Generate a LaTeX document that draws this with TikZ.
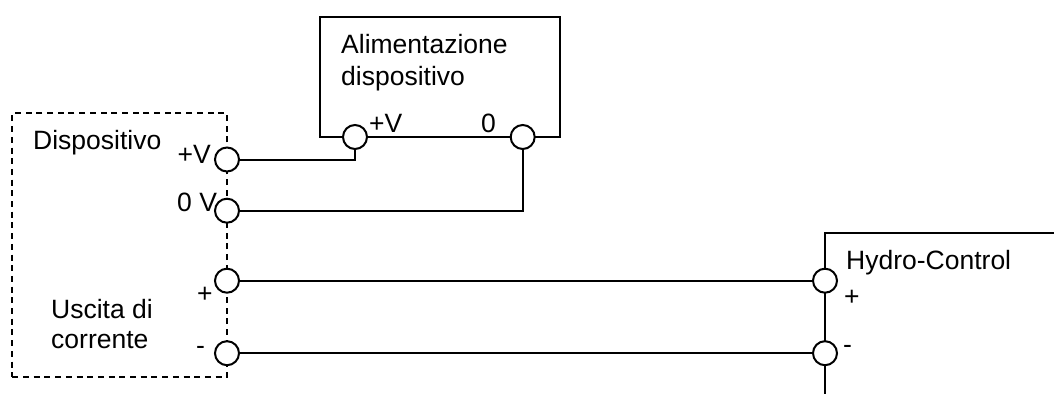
\documentclass[tikz,border=0pt]{standalone}
\usepackage{fontspec}
\setmainfont{Liberation Sans}
\tikzset{
  wire/.style={draw=black,line width=2pt},
  dashbox/.style={draw=black,line width=2pt,dash pattern=on 6pt off 4.7pt,rectangle,inner sep=0pt,minimum width=215pt,minimum height=263.4pt},
  solidbox/.style={draw=black,line width=2pt,rectangle,inner sep=0pt,minimum width=240.3pt,minimum height=120pt},
  term/.style={circle,draw=black,fill=white,line width=2pt,inner sep=0pt,minimum size=24pt},
  lbl/.style={font=\fontsize{26.5pt}{31pt}\selectfont,inner sep=0pt,anchor=base west,text=black},
}
\begin{document}
\begin{tikzpicture}[x=1pt,y=-1pt]
\useasboundingbox (0,0) rectangle (1054,394);
\node[dashbox] (dev) at (119.8,245) {};
\node[solidbox] (psu) at (439.85,76.7) {};
\coordinate (hcEnd) at (1054,233.3);
\coordinate (hcBot) at (825,394);
\coordinate (hcCorner) at (825,233.3);
\draw[wire] (hcEnd) -- (hcCorner) -- (hcBot);
\node[term] (dV) at (227,159.5) {};
\node[term] (d0) at (227,210.7) {};
\node[term] (dP) at (227,280.7) {};
\node[term] (dM) at (227,353.2) {};
\node[term] (pV) at (355,137) {};
\node[term] (p0) at (522.7,137) {};
\node[term] (hP) at (825,280.7) {};
\node[term] (hM) at (825,353.2) {};
\draw[wire] (dV.east) -| (pV.south);
\draw[wire] (d0.east) -| (p0.south);
\draw[wire] (dP.east) -- (hP.west);
\draw[wire] (dM.east) -- (hM.west);
\node[lbl] (t1) at (341,53.5) {Alimentazione};
\node[lbl] (t2) at (341,85.5) {dispositivo};
\node[lbl] (t3) at (369,132.5) {+V};
\node[lbl] (t4) at (481,132.5) {0};
\node[lbl] (t5) at (33,149) {Dispositivo};
\node[lbl] (t6) at (177.5,163) {+V};
\node[lbl] (t7) at (177,211.5) {0 V};
\node[lbl] (t8) at (197,302) {+};
\node[lbl] (t9) at (51,318) {Uscita di};
\node[lbl] (t10) at (51,348) {corrente};
\node[lbl] (t11) at (196,354) {-};
\node[lbl] (t12) at (846,269) {Hydro-Control};
\node[lbl] (t13) at (844,305) {+};
\node[lbl] (t14) at (843,353) {-};
\end{tikzpicture}
\end{document}
